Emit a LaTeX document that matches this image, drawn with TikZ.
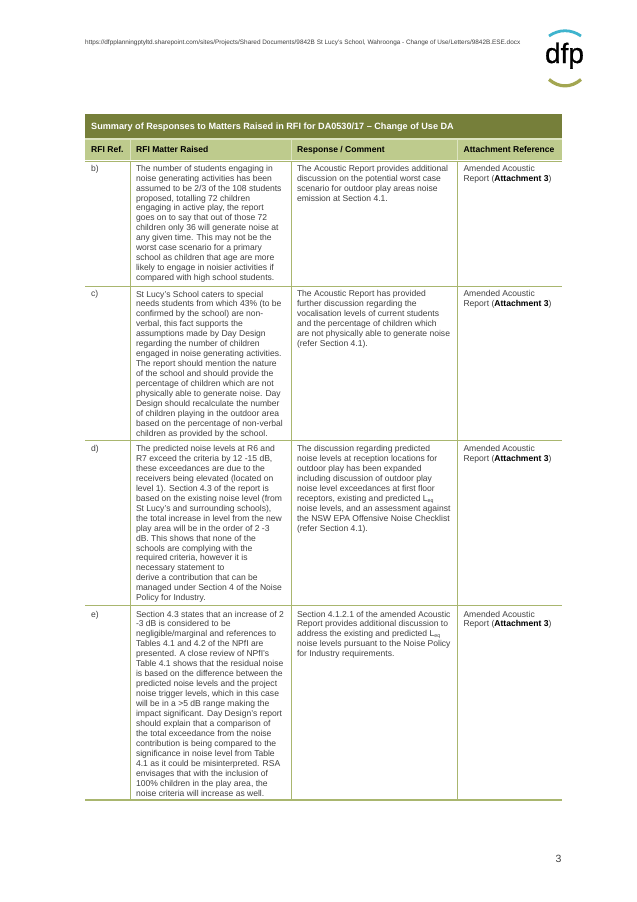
\documentclass[tikz,border=0pt]{standalone}
\usepackage{fontspec}
\setmainfont{Liberation Sans}
\newfontfamily\logofont[FakeBold=0.7]{Liberation Sans}
\definecolor{oliveD}{HTML}{767F3A}
\definecolor{oliveL}{HTML}{BECB8D}
\definecolor{paleL}{HTML}{DDE4C2}
\definecolor{ruleC}{HTML}{A9B66F}
\definecolor{bodyT}{HTML}{404040}
\definecolor{tealL}{HTML}{3FB4CE}
\definecolor{oliveA}{HTML}{A3A651}
\tikzset{
 x=1pt,y=-1pt,
 cell/.style={anchor=north west,inner sep=0pt,outer sep=0pt,align=left,text=bodyT,font=\fontsize{8.55}{9.95}\selectfont},
 head/.style={anchor=base west,inner sep=0pt,font=\fontsize{8.55}{10}\selectfont\bfseries,text=black},
 grid/.style={draw=ruleC,line width=1pt},
 gridB/.style={draw=ruleC,line width=1.4pt},
 pale/.style={draw=paleL,line width=0.7pt}
}
\newcommand{\eqsub}{\raisebox{-1pt}{\fontsize{5.2}{6}\selectfont eq}}
\begin{document}
\begin{tikzpicture}
\useasboundingbox (0,0) rectangle (637,902);
\fill[white] (0,0) rectangle (637,902);
\node[anchor=base west,inner sep=0pt,text=bodyT,font=\fontsize{6.4}{7}\selectfont] (url) at (85,44) {https://dfpplanningptyltd.sharepoint.com/sites/Projects/Shared Documents/9842B St Lucy's School, Wahroonga - Change of Use/Letters/9842B.ESE.docx};
% logo
\draw[tealL,line width=2.8pt] (549,36) .. controls (559,29) and (571,29) .. (581,36);
\draw[oliveA,line width=3.2pt] (549,79.5) .. controls (559,88) and (571,88) .. (581,79.5);
\node[anchor=base,inner sep=0pt,text=black,font=\logofont\fontsize{28}{30}\selectfont] (logo) at (564.5,63) {dfp};
% header
\fill[oliveD] (85,114) rectangle (562,138);
\fill[paleL] (85,138) rectangle (562,140);
\fill[oliveL] (85,140) rectangle (562,160);
\draw[pale] (130.7,140) -- (130.7,160);
\draw[pale] (291.3,140) -- (291.3,160);
\draw[pale] (457.7,140) -- (457.7,160);
\node[anchor=base west,inner sep=0pt,text=white,font=\fontsize{9.1}{10}\selectfont\bfseries] (title) at (91,129.5) {Summary of Responses to Matters Raised in RFI for DA0530/17 – Change of Use DA};
\node[head] (h1) at (91,152) {RFI Ref.};
\node[head] (h2) at (136,152) {RFI Matter Raised};
\node[head] (h3) at (297,152) {Response / Comment};
\node[head] (h4) at (463.5,152) {Attachment Reference};
% grid
\draw[grid] (85,161) -- (562,161);
\draw[grid] (85,286) -- (562,286);
\draw[grid] (85,440.5) -- (562,440.5);
\draw[grid] (85,605) -- (562,605);
\draw[gridB] (85,800) -- (562,800);
\draw[grid] (130.7,161) -- (130.7,800);
\draw[grid] (291.3,161) -- (291.3,800);
\draw[grid] (457.7,161) -- (457.7,800);
% row b
\node[cell] (b0) at (91,165) {b)};
\node[cell] (b1) at (136,165) {The number of students engaging in\\noise generating activities has been\\assumed to be 2/3 of the 108 students\\proposed, totalling 72 children\\engaging in active play, the report\\goes on to say that out of those 72\\children only 36 will generate noise at\\any given time. This may not be the\\worst case scenario for a primary\\school as children that age are more\\likely to engage in noisier activities if\\compared with high school students.};
\node[cell] (b2) at (297,165) {The Acoustic Report provides additional\\discussion on the potential worst case\\scenario for outdoor play areas noise\\emission at Section 4.1.};
\node[cell] (b3) at (463.5,165) {Amended Acoustic\\Report (\textcolor{black}{\textbf{Attachment 3}})};
% row c
\node[cell] (c0) at (91,290.8) {c)};
\node[cell] (c1) at (136,290.8) {St Lucy's School caters to special\\needs students from which 43\% (to be\\confirmed by the school) are non-\\verbal, this fact supports the\\assumptions made by Day Design\\regarding the number of children\\engaged in noise generating activities.\\The report should mention the nature\\of the school and should provide the\\percentage of children which are not\\physically able to generate noise. Day\\Design should recalculate the number\\of children playing in the outdoor area\\based on the percentage of non-verbal\\children as provided by the school.};
\node[cell] (c2) at (297,290.8) {The Acoustic Report has provided\\further discussion regarding the\\vocalisation levels of current students\\and the percentage of children which\\are not physically able to generate noise\\(refer Section 4.1).};
\node[cell] (c3) at (463.5,290.8) {Amended Acoustic\\Report (\textcolor{black}{\textbf{Attachment 3}})};
% row d
\node[cell] (d0) at (91,445.3) {d)};
\node[cell] (d1) at (136,445.3) {The predicted noise levels at R6 and\\R7 exceed the criteria by 12 -15 dB,\\these exceedances are due to the\\receivers being elevated (located on\\level 1). Section 4.3 of the report is\\based on the existing noise level (from\\St Lucy's and surrounding schools),\\the total increase in level from the new\\play area will be in the order of 2 -3\\dB. This shows that none of the\\schools are complying with the\\required criteria, however it is\\necessary statement to\\derive a contribution that can be\\managed under Section 4 of the Noise\\Policy for Industry.};
\node[cell] (d2) at (297,445.3) {The discussion regarding predicted\\noise levels at reception locations for\\outdoor play has been expanded\\including discussion of outdoor play\\noise level exceedances at first floor\\receptors, existing and predicted L\eqsub\\noise levels, and an assessment against\\the NSW EPA Offensive Noise Checklist\\(refer Section 4.1).};
\node[cell] (d3) at (463.5,445.3) {Amended Acoustic\\Report (\textcolor{black}{\textbf{Attachment 3}})};
% row e
\node[cell] (e0) at (91,610.8) {e)};
\node[cell] (e1) at (136,610.8) {Section 4.3 states that an increase of 2\\-3 dB is considered to be\\negligible/marginal and references to\\Tables 4.1 and 4.2 of the NPfI are\\presented. A close review of NPfI's\\Table 4.1 shows that the residual noise\\is based on the difference between the\\predicted noise levels and the project\\noise trigger levels, which in this case\\will be in a >5 dB range making the\\impact significant. Day Design's report\\should explain that a comparison of\\the total exceedance from the noise\\contribution is being compared to the\\significance in noise level from Table\\4.1 as it could be misinterpreted. RSA\\envisages that with the inclusion of\\100\% children in the play area, the\\noise criteria will increase as well.};
\node[cell] (e2) at (297,610.8) {Section 4.1.2.1 of the amended Acoustic\\Report provides additional discussion to\\address the existing and predicted L\eqsub\\noise levels pursuant to the Noise Policy\\for Industry requirements.};
\node[cell] (e3) at (463.5,610.8) {Amended Acoustic\\Report (\textcolor{black}{\textbf{Attachment 3}})};
% page number
\node[anchor=base,inner sep=0pt,text=bodyT,font=\fontsize{10.5}{11}\selectfont] (pg) at (558.5,862) {3};
\end{tikzpicture}
\end{document}
